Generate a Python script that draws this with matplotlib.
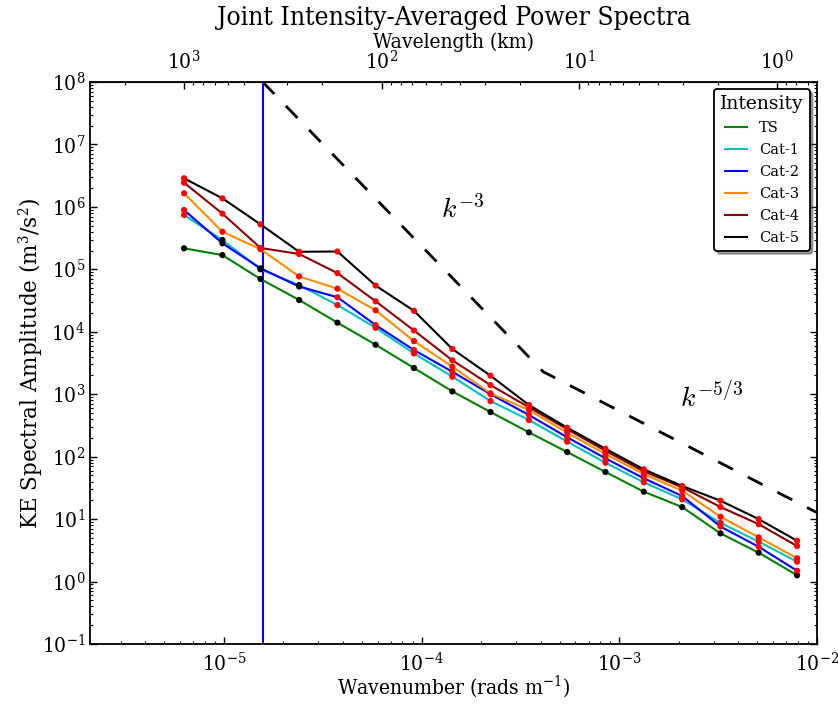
"""Joint intensity-averaged KE power spectra."""

import numpy as np
import matplotlib

matplotlib.use("Agg")
import matplotlib.pyplot as plt


WAVENUMBER = [6.28e-6, 9.82e-6, 1.53e-5, 2.40e-5, 3.75e-5, 5.85e-5, 9.14e-5,
              1.43e-4, 2.23e-4, 3.49e-4, 5.45e-4, 8.51e-4, 1.33e-3, 2.08e-3,
              3.25e-3, 5.07e-3, 7.93e-3]

TS = [2.17e5, 1.69e5, 7.0e4, 3.23e4, 1.40e4, 6.2e3, 2.63e3, 1.11e3, 519, 245,
      118.6, 56.8, 27.5, 15.6, 5.9, 2.9, 1.26]
CAT1 = [7.4e5, 2.95e5, 1.0e5, 5.6e4, 2.68e4, 1.16e4, 4.5e3, 1.91e3, 778, 386,
        174, 80, 38.8, 20.7, 8.7, 4.35, 2.08]
CAT2 = [8.9e5, 2.61e5, 1.04e5, 5.3e4, 3.57e4, 1.28e4, 5.1e3, 2.29e3, 1.0e3, 465,
        204, 94, 45, 23.4, 7.6, 3.6, 1.49]
CAT3 = [1.65e6, 4.0e5, 2.1e5, 7.7e4, 4.9e4, 2.21e4, 7.1e3, 2.76e3, 1.03e3, 558,
        242, 110, 52.7, 28.5, 10.9, 5.1, 2.36]
CAT4 = [2.44e6, 7.8e5, 2.2e5, 1.76e5, 8.7e4, 3.08e4, 1.05e4, 3.49e3, 1.40e3, 617,
        275, 124, 58.2, 32.3, 15.6, 8.3, 3.7]
CAT5 = [2.87e6, 1.37e6, 5.26e5, 1.91e5, 1.93e5, 5.5e4, 2.17e4, 5.3e3, 1.98e3, 671,
        291, 134, 62.7, 33.9, 19.7, 10.0, 4.5]

# points not significantly different from TS (drawn with black markers)
NOT_SIGNIFICANT = {"TS": list(range(17)), "Cat-1": [1, 2, 3], "Cat-2": [1, 2, 3]}

# reference slopes k^-3 and k^-5/3
REF_K = [1.57e-5, 4.12e-4, 1e-2]
REF_E = [1e8, 2.29e3, 12.7]
CUTOFF_K = 1.57e-5

WAVELENGTH_TICKS = [1e3, 1e2, 1e1, 1e0]

SERIES = [
    ("TS", TS, (0, 0.5, 0)),
    ("Cat-1", CAT1, (0, 0.75, 0.75)),
    ("Cat-2", CAT2, (0, 0, 1)),
    ("Cat-3", CAT3, "#ff8c00"),
    ("Cat-4", CAT4, "#8b0000"),
    ("Cat-5", CAT5, "k"),
]

plt.rcParams["font.family"] = ["DejaVu Serif"]
plt.rcParams["font.stretch"] = "condensed"
plt.rcParams["mathtext.fontset"] = "custom"
plt.rcParams["mathtext.rm"] = "DejaVu Serif:stretch=condensed"

fig = plt.figure(figsize=(8.38, 7.06), dpi=100)
ax = fig.add_axes([90 / 838, 1 - 644 / 706, 727 / 838, 562 / 706])
ax.set_xscale("log")
ax.set_yscale("log")

k = np.array(WAVENUMBER)
for label, values, color in SERIES:
    ax.plot(k, values, color=color, lw=1.5, label=label, zorder=2)
for label, values, color in SERIES:
    marker_colors = ["k" if i in NOT_SIGNIFICANT.get(label, []) else "r"
                     for i in range(len(values))]
    ax.scatter(k, values, c=marker_colors, s=20, lw=0, zorder=3)

ax.plot(REF_K, REF_E, "k--", lw=2, dashes=(6, 6), zorder=1)
ax.axvline(CUTOFF_K, color="b", lw=1.5, zorder=1)

ax.text(1.62e-4, 8.9e5, r"$k^{-3}$", fontsize=20, ha="center", va="center",
        math_fontfamily="cm")
ax.text(2.94e-3, 9.0e2, r"$k^{-5/3}$", fontsize=20, ha="center", va="center",
        math_fontfamily="cm")

ax.set_xlim(2.1e-6, 1e-2)
ax.set_ylim(1e-1, 1e8)
ax.set_yticks([10.0 ** p for p in range(-1, 9)])
ax.tick_params(which="both", direction="in", top=False, right=True, labelsize=15)
ax.tick_params(which="major", length=5, width=1)
ax.tick_params(which="minor", length=2.5, width=0.8)
ax.tick_params(axis="x", pad=6)
for spine in ax.spines.values():
    spine.set_linewidth(1.3)

ax.set_xlabel(r"Wavenumber (rads m$^{-1}$)", fontsize=15, labelpad=-1)
ax.set_ylabel(r"KE Spectral Amplitude (m$^3$/s$^2$)", fontsize=15.5,
              fontstretch="normal")
ax.yaxis.set_label_coords(-0.062, 0.5)


def to_wavelength(kk):
    return 2 * np.pi / np.asarray(kk, dtype=float) / 1000.0


top = ax.secondary_xaxis("top", functions=(to_wavelength, to_wavelength))
top.set_xticks(WAVELENGTH_TICKS)
top.tick_params(which="both", direction="in", labelsize=15, pad=6)
top.tick_params(which="major", length=5, width=1)
top.tick_params(which="minor", length=2.5, width=0.8)
top.set_xlabel("Wavelength (km)", fontsize=15, labelpad=2)

fig.text(453.5 / 838, 1 - 17 / 706, "Joint Intensity-Averaged Power Spectra",
         fontsize=19, ha="center", va="center")

legend = ax.legend(title="Intensity", loc="upper right", fontsize=10.5,
                   title_fontsize=13.5, shadow=True, fancybox=True,
                   handlelength=1.5, borderaxespad=0.5, labelspacing=0.55)
legend.get_frame().set_edgecolor("k")
legend.get_frame().set_linewidth(1.3)
legend.get_frame().set_alpha(1)
for text in legend.get_texts() + [legend.get_title()]:
    text.set_fontstretch("normal")

fig.savefig("out.png", dpi=100)
